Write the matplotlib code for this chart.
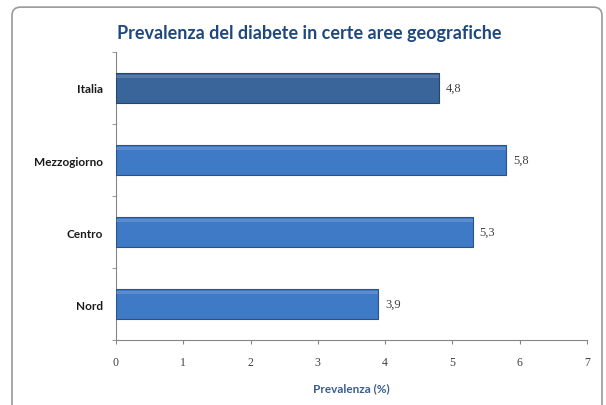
import matplotlib
matplotlib.use("Agg")
import matplotlib.pyplot as plt
from matplotlib.patches import FancyBboxPatch
import numpy as np

categories = ["Nord", "Centro", "Mezzogiorno", "Italia"]
values = [3.9, 5.3, 5.8, 4.8]
value_labels = ["3,9", "5,3", "5,8", "4,8"]
xticks = [0, 1, 2, 3, 4, 5, 6, 7]
colors = ["#3F7AC6", "#3F7AC6", "#3F7AC6", "#3A659A"]
edges = ["#2A5486", "#2A5486", "#2A5486", "#27466E"]

fig = plt.figure(figsize=(6.06, 4.06), dpi=100)
fig.patch.set_facecolor("white")

border = FancyBboxPatch((12 / 606, -0.02), 590 / 606, 1.0, boxstyle="round,pad=0,rounding_size=0.014",
                        mutation_aspect=606/406,
                        transform=fig.transFigure, facecolor="none", edgecolor="#9A9A9A",
                        linewidth=1.2, zorder=0)
fig.patches.append(border)

ax = fig.add_axes([0.1914, 0.160, 0.7772, 0.7095])
ax.set_facecolor("none")
y = np.arange(len(categories))
ax.barh(y, values, height=0.42, color=colors, edgecolor=edges, linewidth=0.8, zorder=3)
# highlight stripe
for yi, v in zip(y, values):
    ax.barh(yi + 0.16, v, height=0.05, color="white", alpha=0.15, linewidth=0, zorder=4)

for yi, v, lab in zip(y, values, value_labels):
    ax.text(v + 0.1, yi, lab, va="center", ha="left", fontsize=9,
            family="Liberation Serif", color="#404040")

ax.set_xlim(0, 7)
ax.set_ylim(-0.5, 3.5)
ax.set_xticks(xticks)
ax.set_xticklabels([str(t) for t in xticks], family="Liberation Serif", fontsize=8.5, color="#404040")
ax.set_yticks(y)
ax.set_yticklabels(categories, family="Lato", fontweight="bold", fontsize=8.5, color="#1A1A1A")
ax.set_yticks([-0.5, 0.5, 1.5, 2.5, 3.5], minor=True)
ax.tick_params(axis="y", which="major", length=0, pad=9.4)
ax.tick_params(axis="y", which="minor", length=3, color="#868686", direction="out")
ax.tick_params(axis="x", length=3, color="#868686", direction="out", pad=8.5)

for s in ["top", "right"]:
    ax.spines[s].set_visible(False)
for s in ["left", "bottom"]:
    ax.spines[s].set_color("#868686")
    ax.spines[s].set_linewidth(0.8)

ax.set_xlabel("Prevalenza (%)", family="Lato", fontweight="bold", fontsize=8.5,
              color="#3B5E8C", va="center")
ax.xaxis.set_label_coords(0.5, -48 / 288)

fig.text(0.51, 0.918, "Prevalenza del diabete in certe aree geografiche", ha="center", va="center",
         family="Lato", fontweight="bold", fontsize=13, color="#1F497D")

fig.savefig("out.png", dpi=100)
